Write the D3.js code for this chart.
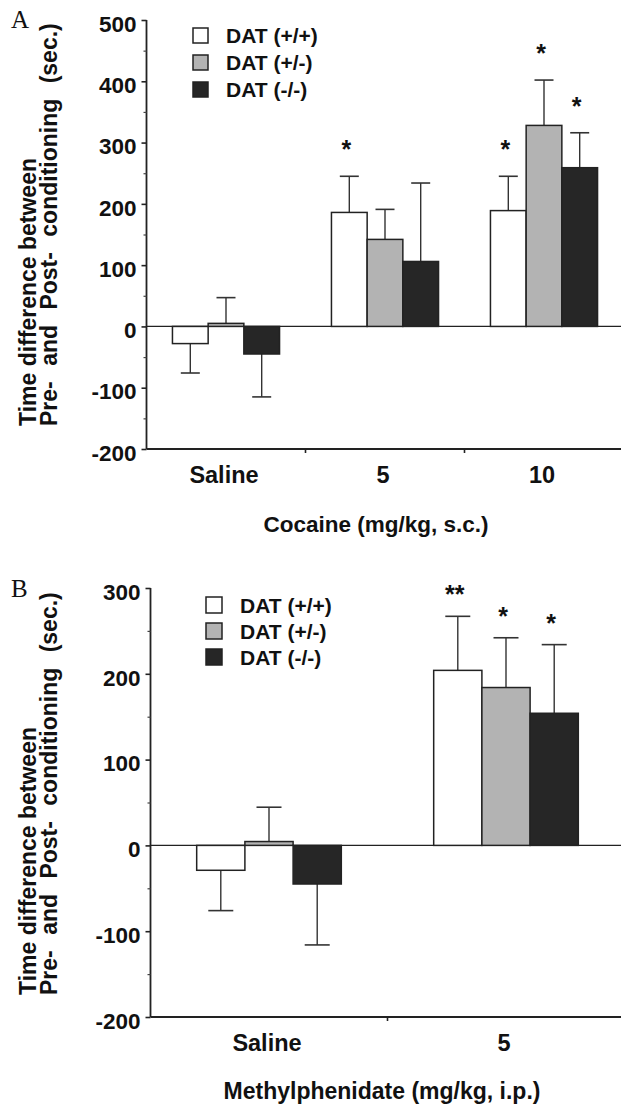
<!DOCTYPE html>
<html>
<head>
<meta charset="utf-8">
<script src="https://cdn.jsdelivr.net/npm/d3@7"></script>
<style>
  body { margin: 0; background: #fff; }
  svg text { font-family: 'Liberation Sans', Arial, sans-serif; font-weight: bold; fill: #111; }
  .panel-letter { font-family: 'Liberation Serif', 'Times New Roman', serif !important; font-weight: normal !important; }
</style>
</head>
<body>
<svg id="chart"></svg>
<script>
// genotype groups (legend order)
const genotypes = ['DAT (+/+)', 'DAT (+/-)', 'DAT (-/-)'];
const fills = ['#ffffff', '#b3b3b3', '#262626'];

// panel A: cocaine
const cocaineDoses = ['Saline', '5', '10'];
const cocaineWT = [-28, 186, 189];
const cocaineHet = [5, 142, 328];
const cocaineKO = [-45, 106, 259];
const cocaineWTErr = [48, 59, 56];
const cocaineHetErr = [42, 49, 74];
const cocaineKOErr = [70, 128, 57];
const cocaineWTStars = ['', '*', '*'];
const cocaineHetStars = ['', '', '*'];
const cocaineKOStars = ['', '', '*'];
const cocaineTicks = [-200, -100, 0, 100, 200, 300, 400, 500];

// panel B: methylphenidate
const mphDoses = ['Saline', '5'];
const mphWT = [-29, 204];
const mphHet = [4.5, 184];
const mphKO = [-45, 154];
const mphWTErr = [47, 63];
const mphHetErr = [40, 58];
const mphKOErr = [71, 80];
const mphWTStars = ['', '**'];
const mphHetStars = ['', '*'];
const mphKOStars = ['', '*'];
const mphTicks = [-200, -100, 0, 100, 200, 300];

const width = 621;
const height = 1108;

const svg = d3.select('#chart')
    .attr('width', width)
    .attr('height', height);

function drawPanel(opts) {
  const g = svg.append('g');
  const doses = opts.doses;
  const ticks = opts.ticks;

  const y = d3.scaleLinear()
      .domain([ticks[0], ticks[ticks.length - 1]])
      .range([opts.bottom, opts.top]);
  const x0 = d3.scaleBand()
      .domain(doses)
      .range([opts.left, opts.left + opts.band * doses.length]);
  const x1 = d3.scaleBand()
      .domain(genotypes)
      .range([0, x0.bandwidth()])
      .paddingInner(0)
      .paddingOuter(opts.outer);

  const rows = [];
  for (let s = 0; s < genotypes.length; s++) {
    for (let i = 0; i < doses.length; i++) {
      rows.push({
        dose: doses[i],
        geno: genotypes[s],
        fill: fills[s],
        value: opts.means[s][i],
        err: opts.errs[s][i],
        star: opts.stars[s][i],
      });
    }
  }

  // zero line
  g.append('line')
      .attr('x1', opts.left).attr('x2', width)
      .attr('y1', y(0)).attr('y2', y(0))
      .attr('stroke', '#222').attr('stroke-width', 1.3);

  // error bars (one-sided, away from zero)
  const errEnd = (d) => d.value >= 0 ? d.value + d.err : d.value - d.err;
  const cx = (d) => x0(d.dose) + x1(d.geno) + x1.bandwidth() / 2;
  g.selectAll('.err')
      .data(rows)
      .enter().append('line')
      .attr('class', 'err')
      .attr('x1', cx).attr('x2', cx)
      .attr('y1', (d) => y(d.value))
      .attr('y2', (d) => y(errEnd(d)))
      .attr('stroke', '#333').attr('stroke-width', 1.4);
  g.selectAll('.cap')
      .data(rows)
      .enter().append('line')
      .attr('class', 'cap')
      .attr('x1', (d) => cx(d) - opts.cap / 2)
      .attr('x2', (d) => cx(d) + opts.cap / 2)
      .attr('y1', (d) => y(errEnd(d)))
      .attr('y2', (d) => y(errEnd(d)))
      .attr('stroke', '#333').attr('stroke-width', 1.6);

  // bars
  g.selectAll('.bar')
      .data(rows)
      .enter().append('rect')
      .attr('class', 'bar')
      .attr('x', (d) => x0(d.dose) + x1(d.geno))
      .attr('width', x1.bandwidth())
      .attr('y', (d) => y(Math.max(0, d.value)))
      .attr('height', (d) => Math.abs(y(d.value) - y(0)))
      .attr('fill', (d) => d.fill)
      .attr('stroke', '#222')
      .attr('stroke-width', 1.5);

  // significance stars
  g.selectAll('.star')
      .data(rows.filter((d) => d.star))
      .enter().append('text')
      .attr('class', 'star')
      .attr('x', (d) => cx(d) - 3)
      .attr('y', (d) => y(errEnd(d)) - opts.starGap + 14)
      .attr('text-anchor', 'middle')
      .style('font-size', '25px')
      .text((d) => d.star);

  // y axis: major ticks with labels, minor ticks between
  const minor = [];
  for (let i = 0; i < ticks.length - 1; i++) {
    minor.push((ticks[i] + ticks[i + 1]) / 2);
  }
  const yAxis = g.append('g')
      .attr('transform', `translate(${opts.left},0)`)
      .call(d3.axisLeft(y).tickValues(ticks).tickSize(5).tickPadding(5)
          .tickFormat((d) => String(d)));
  yAxis.select('.domain').attr('d', `M0,${y(ticks[ticks.length - 1])}V${y(ticks[0])}`)
      .attr('stroke', '#222').attr('stroke-width', 1.8);
  yAxis.selectAll('.tick line').attr('stroke', '#222').attr('stroke-width', 1.6);
  yAxis.selectAll('.tick text')
      .attr('dy', '0.5em')
      .style('font-size', '22.5px')
      .style('font-family', '\'Liberation Sans\', Arial, sans-serif')
      .style('font-weight', 'bold')
      .attr('fill', '#111');
  const yMinor = g.append('g')
      .attr('transform', `translate(${opts.left},0)`)
      .call(d3.axisLeft(y).tickValues(minor).tickSize(3).tickFormat(''));
  yMinor.select('.domain').remove();
  yMinor.selectAll('.tick line').attr('stroke', '#444').attr('stroke-width', 1.2);

  // x axis
  const xb = y(ticks[0]);
  g.append('line')
      .attr('x1', opts.left).attr('x2', width)
      .attr('y1', xb).attr('y2', xb)
      .attr('stroke', '#222').attr('stroke-width', 1.8);
  g.selectAll('.xtick')
      .data(doses.slice(1))
      .enter().append('line')
      .attr('class', 'xtick')
      .attr('x1', (d) => x0(d)).attr('x2', (d) => x0(d))
      .attr('y1', xb).attr('y2', xb + 4)
      .attr('stroke', '#222').attr('stroke-width', 1.6);
  g.selectAll('.xlabel')
      .data(doses)
      .enter().append('text')
      .attr('class', 'xlabel')
      .attr('x', (d) => x0(d) + x0.bandwidth() / 2 - 2)
      .attr('y', xb + 34)
      .attr('text-anchor', 'middle')
      .style('font-size', '23.5px')
      .text((d) => d);

  // x axis title
  g.append('text')
      .attr('x', opts.titleX)
      .attr('y', opts.titleY)
      .attr('text-anchor', 'middle')
      .style('font-size', opts.titleSize + 'px')
      .text(opts.title);

  // y axis title (two lines, bottom-aligned)
  const yt = g.append('text')
      .attr('transform', `translate(36,${opts.yTitleStart}) rotate(-90)`)
      .style('font-size', '23px');
  yt.append('tspan').attr('x', 0).attr('y', 0).text('Time difference between');
  yt.append('tspan').attr('x', 0).attr('y', 21)
      .style('word-spacing', '9px')
      .text('Pre- and Post- conditioning (sec.)');

  // panel letter
  g.append('text')
      .attr('class', 'panel-letter')
      .attr('x', 11)
      .attr('y', opts.letterY)
      .style('font-size', '25px')
      .text(opts.letter);

  // legend
  const leg = g.selectAll('.leg')
      .data(genotypes)
      .enter().append('g')
      .attr('class', 'leg')
      .attr('transform', (d, i) => `translate(${opts.legX},${opts.legY + i * opts.legStep})`);
  leg.append('rect')
      .attr('width', opts.legBox).attr('height', opts.legBox)
      .attr('fill', (d, i) => fills[i])
      .attr('stroke', '#222').attr('stroke-width', 1.5);
  leg.append('text')
      .attr('x', opts.legBox + 18)
      .attr('y', opts.legBox)
      .style('font-size', '21px')
      .text((d) => d);
}

drawPanel({
  letter: 'A', letterY: 28,
  doses: cocaineDoses, ticks: cocaineTicks,
  means: [cocaineWT, cocaineHet, cocaineKO],
  errs: [cocaineWTErr, cocaineHetErr, cocaineKOErr],
  stars: [cocaineWTStars, cocaineHetStars, cocaineKOStars],
  top: 20, bottom: 449, left: 146.5, band: 159, outer: 0.727, cap: 19,
  starGap: 32,
  title: 'Cocaine (mg/kg, s.c.)', titleX: 376, titleY: 532, titleSize: 22.5,
  yTitleStart: 426,
  legX: 193, legY: 28, legStep: 27, legBox: 15,
});

drawPanel({
  letter: 'B', letterY: 597,
  doses: mphDoses, ticks: mphTicks,
  means: [mphWT, mphHet, mphKO],
  errs: [mphWTErr, mphHetErr, mphKOErr],
  stars: [mphWTStars, mphHetStars, mphKOStars],
  top: 588, bottom: 1017, left: 150.5, band: 237, outer: 0.958, cap: 25,
  starGap: 27,
  title: 'Methylphenidate (mg/kg, i.p.)', titleX: 382, titleY: 1099, titleSize: 23,
  yTitleStart: 995,
  legX: 206, legY: 597, legStep: 26, legBox: 16,
});
</script>
</body>
</html>
